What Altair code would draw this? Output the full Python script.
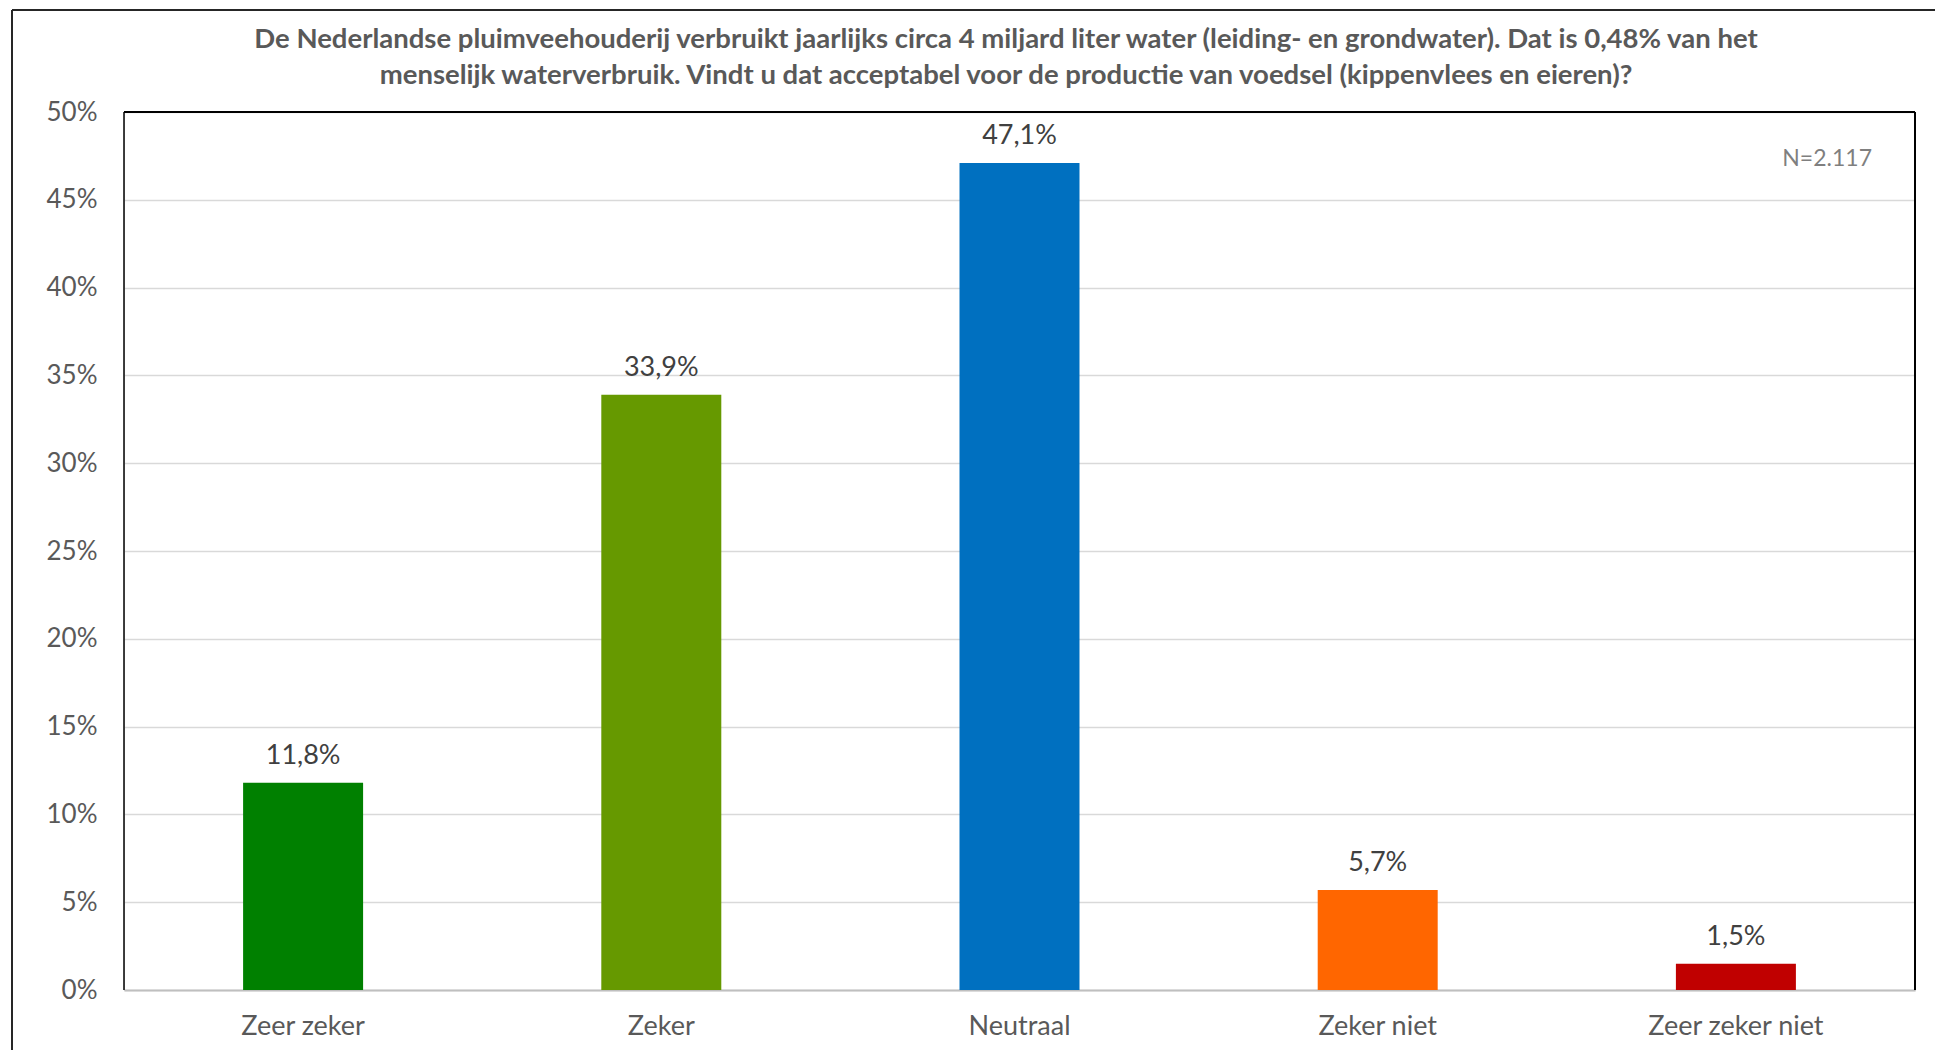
import altair as alt
import pandas as pd

categories = ["Zeer zeker", "Zeker", "Neutraal", "Zeker niet", "Zeer zeker niet"]
values = [11.8, 33.9, 47.1, 5.7, 1.5]
colors = ["#008000", "#669900", "#0070C0", "#FF6600", "#C00000"]
title_lines = [
    "De Nederlandse pluimveehouderij verbruikt jaarlijks circa 4 miljard liter water (leiding- en grondwater). Dat is 0,48% van het",
    "menselijk waterverbruik. Vindt u dat acceptabel voor de productie van voedsel (kippenvlees en eieren)?",
]
note = "N=2.117"

FONT = "Lato"
W, H = 1791, 878

df = pd.DataFrame({
    "cat": categories,
    "val": [v / 100 for v in values],
    "label": [f"{v:.1f}".replace(".", ",") + "%" for v in values],
    "color": colors,
})

x = alt.X("cat:N", sort=categories, title=None,
          scale=alt.Scale(paddingInner=0.665, paddingOuter=0.3325),
          axis=alt.Axis(labelAngle=0, labelFont=FONT, labelFontSize=27, labelColor="#595959",
                        labelPadding=23, ticks=False, domainColor="#BFBFBF", domainWidth=2))
y = alt.Y("val:Q", title=None,
          scale=alt.Scale(domain=[0, 0.5], nice=False),
          axis=alt.Axis(format=".0%", values=[i * 0.05 for i in range(11)], labelFont=FONT,
                        labelFontSize=26, labelColor="#595959", labelPadding=27, ticks=False,
                        domain=False, gridColor="#D9D9D9", gridWidth=1.3))

bars = alt.Chart(df).mark_bar().encode(
    x=x, y=y, color=alt.Color("color:N", scale=None)
)
labels = alt.Chart(df).mark_text(font=FONT, fontSize=27, color="#404040", baseline="middle", dy=-27).encode(
    x=alt.X("cat:N", sort=categories), y="val:Q", text="label:N"
)
ntext = alt.Chart(pd.DataFrame({"t": [note]})).mark_text(
    font=FONT, fontSize=23, color="#7F7F7F", align="right", baseline="middle"
).encode(x=alt.value(W - 43), y=alt.value(47), text="t:N")

title1 = alt.Chart(pd.DataFrame({"t": [title_lines[0]]})).mark_text(
    font=FONT, fontSize=27.5, fontWeight="bold", color="#595959", align="center", baseline="middle", clip=False
).encode(x=alt.value(882), y=alt.value(-72), text="t:N")
title2 = alt.Chart(pd.DataFrame({"t": [title_lines[1]]})).mark_text(
    font=FONT, fontSize=27.5, fontWeight="bold", color="#595959", align="center", baseline="middle", clip=False
).encode(x=alt.value(882), y=alt.value(-36), text="t:N")

one = pd.DataFrame({"a": [0]})
frame_v = alt.Chart(one).mark_rule(color="#262626", strokeWidth=2, clip=False).encode(
    x=alt.value(-112), y=alt.value(-102), y2=alt.value(1100))
frame_h = alt.Chart(one).mark_rule(color="#262626", strokeWidth=2, clip=False).encode(
    x=alt.value(-112), x2=alt.value(1900), y=alt.value(-102))

box_top = alt.Chart(one).mark_rule(color="#000000", strokeWidth=2).encode(
    x=alt.value(0), x2=alt.value(W), y=alt.value(0))
box_left = alt.Chart(one).mark_rule(color="#000000", strokeWidth=1.5).encode(
    x=alt.value(0), y=alt.value(0), y2=alt.value(H))
box_right = alt.Chart(one).mark_rule(color="#000000", strokeWidth=2).encode(
    x=alt.value(W), y=alt.value(0), y2=alt.value(H))

chart = alt.layer(bars, labels, ntext, title1, title2, frame_v, frame_h, box_top, box_left, box_right).properties(
    width=W, height=H,
    autosize=alt.AutoSizeParams(type="none"),
    padding={"left": 116, "top": 104, "right": 20, "bottom": 60},
).configure_view(stroke=None).configure(background="white")

chart.save("out.html", embed_options={"renderer": "svg", "actions": False})
